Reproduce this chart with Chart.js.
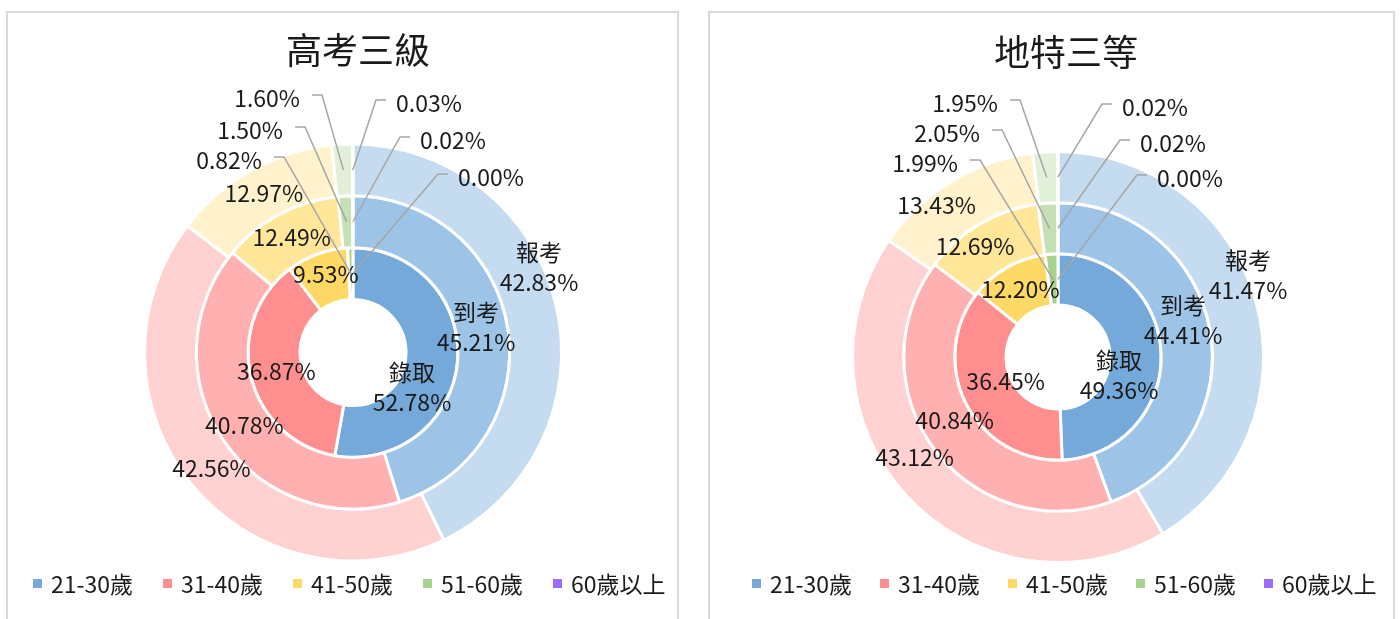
<!DOCTYPE html>
<html lang="zh-Hant">
<head>
<meta charset="utf-8">
<title>高考三級 / 地特三等 年齡分布</title>
<script src="https://cdn.jsdelivr.net/npm/chart.js@4.4.1/dist/chart.umd.min.js"></script>
<style>
  html, body { margin: 0; padding: 0; background: #fff; }
  body { width: 1400px; height: 619px; position: relative; overflow: hidden;
         font-family: "Noto Sans CJK TC", "Noto Sans", sans-serif; color: #1a1a1a; }
  .panel { position: absolute; top: 11px; height: 640px; border: 2px solid #d9d9d9; box-sizing: border-box; }
  #panelA { left: 6px; width: 673px; }
  #panelB { left: 708px; width: 687px; }
  .panel canvas { position: absolute; left: 0; top: 0; }
  .title { position: absolute; font-size: 36px; line-height: 36px; white-space: nowrap; transform: translateX(-50%); }
  .legend { position: absolute; display: flex; font-size: 23px; line-height: 23px; }
  .legend .item { display: flex; align-items: center; white-space: nowrap; }
  .legend .box { width: 9px; height: 9px; margin-right: 9px; }
</style>
</head>
<body>
<div class="panel" id="panelA">
  <canvas id="chartA" width="669" height="606"></canvas>
  <div class="title" style="left:350px; top:17px;">高考三級</div>
  <div class="legend" id="legendA" style="left:25px; top:559px;"></div>
</div>
<div class="panel" id="panelB">
  <canvas id="chartB" width="683" height="606"></canvas>
  <div class="title" style="left:356px; top:19px;">地特三等</div>
  <div class="legend" id="legendB" style="left:42px; top:559px;"></div>
</div>
<script>
// 類別與系列
const ageGroups = ['21-30歲', '31-40歲', '41-50歲', '51-60歲', '60歲以上'];
const stageNames = ['報考', '到考', '錄取'];

// 高考三級 (%)
const gaokaoApply = [42.83, 42.56, 12.97, 1.60, 0.03];
const gaokaoAttend = [45.21, 40.78, 12.49, 1.50, 0.02];
const gaokaoPass = [52.78, 36.87, 9.53, 0.82, 0.00];

// 地特三等 (%)
const diteApply = [41.47, 43.12, 13.43, 1.95, 0.02];
const diteAttend = [44.41, 40.84, 12.69, 2.05, 0.02];
const ditePass = [49.36, 36.45, 12.20, 1.99, 0.00];

// 外圈 -> 內圈 的顏色
const ringColors = [
    ['#c5dbf0', '#ffd1d1', '#fff2cc', '#e2f0d9', '#e2d4ff'],
    ['#9dc3e6', '#ffb1b1', '#ffe699', '#c5e0b4', '#c4a6ff'],
    ['#75a9d9', '#ff8f8f', '#ffd966', '#a9d18e', '#9e6bff']
];
const legendColors = ringColors[2];

// 資料標籤外掛 (每張圖各自的標籤位置設定)
function ringLabels(opts) {
    return {
        id: 'ringLabels',
        afterDatasetsDraw(chart) {
            const ctx = chart.ctx;
            ctx.save();
            ctx.font = '23px "Noto Sans CJK TC", "Noto Sans", sans-serif';
            ctx.fillStyle = '#1a1a1a';
            ctx.strokeStyle = '#a6a6a6';
            ctx.lineWidth = 1.5;
            ctx.textBaseline = 'middle';
            chart.data.datasets.forEach((ds, di) => {
                const meta = chart.getDatasetMeta(di);
                meta.data.forEach((arc, i) => {
                    const txt = ds.data[i].toFixed(2) + '%';
                    const c = arc.getCenterPoint();
                    if (i === 0) {
                        // 名稱 + 百分比
                        const s = opts.nameSpots[di];
                        ctx.textAlign = 'center';
                        ctx.fillText(ds.label, arc.x + s[0], arc.y + s[1] - 15);
                        ctx.fillText(txt, arc.x + s[0], arc.y + s[1] + 15);
                    } else if (i < 3) {
                        const sh = opts.shift[di][i - 1];
                        ctx.textAlign = 'center';
                        ctx.fillText(txt, c.x + sh[0], c.y + sh[1]);
                    } else {
                        // 小扇區: 引導線
                        const spot = opts.callouts[i - 3][di];
                        const tx = arc.x + spot[0], ty = arc.y + spot[1];
                        ctx.beginPath();
                        if (i === 3) {
                            ctx.textAlign = 'right';
                            ctx.fillText(txt, tx, ty);
                            ctx.moveTo(tx + 12, ty - 3);
                            ctx.lineTo(tx + 22, ty - 3);
                            ctx.lineTo(c.x, c.y);
                        } else {
                            ctx.textAlign = 'left';
                            ctx.fillText(txt, tx, ty);
                            ctx.moveTo(c.x, c.y);
                            ctx.lineTo(tx - 20, ty - 3);
                            ctx.lineTo(tx - 10, ty - 3);
                        }
                        ctx.stroke();
                    }
                });
            });
            ctx.restore();
        }
    };
}

function makeChart(id, sets, pad, cutout, labelOpts) {
    return new Chart(document.getElementById(id), {
        type: 'doughnut',
        data: {
            labels: ageGroups,
            datasets: sets.map((vals, k) => ({
                label: stageNames[k],
                data: vals,
                backgroundColor: ringColors[k],
                borderColor: '#ffffff',
                borderWidth: 3,
                hoverBorderWidth: 3,
                hoverOffset: 0
            }))
        },
        options: {
            responsive: false,
            animation: false,
            events: [],
            cutout: cutout,
            layout: { padding: pad },
            plugins: {
                legend: { display: false },
                title: { display: false },
                tooltip: { enabled: false }
            }
        },
        plugins: [ringLabels(labelOpts)]
    });
}

function makeLegend(id, pitch) {
    const el = document.getElementById(id);
    ageGroups.forEach((g, i) => {
        const item = document.createElement('div');
        item.className = 'item';
        item.style.width = pitch + 'px';
        item.innerHTML = '<span class="box" style="background:' + legendColors[i] + '"></span><span>' + g + '</span>';
        el.appendChild(item);
    });
}

makeChart('chartA', [gaokaoApply, gaokaoAttend, gaokaoPass],
    { left: 135, top: 129.5, right: 114, bottom: 56.5 }, 53,
    {
        nameSpots: [[186, -85], [123, -25.5], [59, 34.5]],
        // [31-40, 41-50] 的微調
        shift: [
            [[0, 0], [0, 0]],
            [[0, 0], [0, 0]],
            [[0, 0], [0, -4]]
        ],
        callouts: [
            [[-53, -254.5], [-70, -222.5], [-91, -192.5]],
            [[43, -249.5], [67, -212.5], [105, -175.5]]
        ]
    });

makeChart('chartB', [diteApply, diteAttend, ditePass],
    { left: 141, top: 137, right: 128, bottom: 55 }, 52,
    {
        nameSpots: [[190, -82], [125, -37], [61, 18]],
        shift: [
            [[-12, -23], [-28, 2]],
            [[0, -14], [-18, 0]],
            [[17, -11], [0, 0]]
        ],
        callouts: [
            [[-60, -254], [-78, -224], [-100, -194]],
            [[64, -250], [82, -214], [99, -179]]
        ]
    });

makeLegend('legendA', 130);
makeLegend('legendB', 128);
</script>
</body>
</html>
